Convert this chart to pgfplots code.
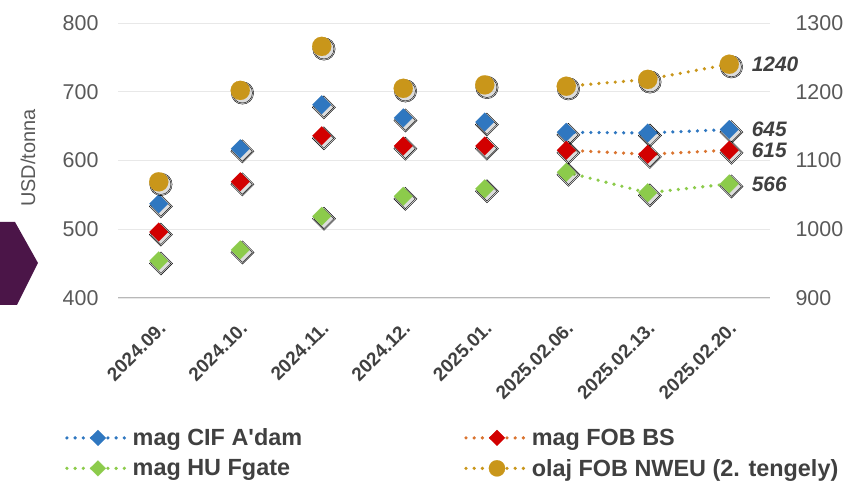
\documentclass[border=0pt]{standalone}
\usepackage{pgfplots}
\usepackage{pgfplotstable}
\pgfplotsset{compat=1.18}
\usepackage{fontspec}
\setmainfont{Liberation Sans}
\definecolor{cifblue}{HTML}{2F77C0}
\definecolor{fobred}{HTML}{D20000}
\definecolor{fobline}{HTML}{DA7430}
\definecolor{hugreen}{HTML}{8CCB4B}
\definecolor{olajgold}{HTML}{C9961A}
\definecolor{ticklab}{HTML}{595959}
\definecolor{labdark}{HTML}{404040}
\definecolor{purp}{HTML}{4B1548}

\pgfplotstableread{
x cif fob hu olaj
0 537 496 454 1069
1 617 569 470 1202
2 681 636 519 1266
3 662 621 548 1205
4 656 621 559 1210
}\early
\pgfplotstableread{
x cif fob hu olaj
5 641 615 583 1208
6 640 609 553 1218
7 645 615 566 1240
}\late

\pgfplotsset{
  dia/.style={mark=square*, mark size=6.6bp, mark options={rotate=45, solid, draw=#1, line width=0.1bp, fill=#1}},
  circ/.style={mark=*, mark size=9.6bp, mark options={solid, draw=#1, line width=0.1bp, fill=#1}},
  dots/.style={line width=3.6bp, line cap=round, dash pattern=on 0pt off 8.2bp, color=#1},
  shdia/.style={only marks, forget plot, xshift=2.2bp, yshift=-2.6bp, mark=square*, mark size=#1, mark options={rotate=45, solid, draw=none, fill=black, fill opacity=0.07}},
  shcirc/.style={only marks, forget plot, xshift=2.2bp, yshift=-2.6bp, mark=*, mark size=#1, mark options={solid, draw=none, fill=black, fill opacity=0.07}},
  base/.style={
    scale only axis, width=652bp, height=275bp,
    at={(118bp,185bp)}, anchor=south west,
    xmin=-0.5, xmax=7.5,
    axis line style={draw=none},
    major tick style={draw=none},
    minor tick style={draw=none},
    clip=false,
    /pgf/number format/assume math mode=true,
    /pgf/number format/1000 sep={},
    yticklabel style={font=\fontsize{21.5}{25}\selectfont, color=ticklab},
  },
}

\begin{document}
\begin{tikzpicture}[x=1bp,y=1bp]
\useasboundingbox (0,0) rectangle (845,483);
\fill[purp] (0,261) -- (15,261) -- (38,220) -- (17,178) -- (0,178) -- cycle;
\node[rotate=90, font=\fontsize{20}{24}\selectfont, color=ticklab] at (28,325) {USD/tonna};

\begin{axis}[base,
  ymin=400, ymax=800, ytick={400,500,...,800},
  ymajorgrids, grid style={color=black!9, line width=0.8bp},
  xtick={0,...,7},
  xticklabels={2024.09.,2024.10.,2024.11.,2024.12.,2025.01.,2025.02.06.,2025.02.13.,2025.02.20.},
  xticklabel style={xshift=6bp, yshift=-25bp, rotate=45, anchor=east, font=\bfseries\fontsize{19}{22}\selectfont, color=labdark},
  yticklabel style={xshift=-16bp},
]
\draw[black!28, line width=1bp] (rel axis cs:0,0) -- (rel axis cs:1,0);
% shadows
\addplot[shdia=8.2bp] table[x=x,y=cif]{\early};
\addplot[shdia=8.2bp] table[x=x,y=cif]{\late};
\addplot[shdia=8.2bp] table[x=x,y=fob]{\early};
\addplot[shdia=8.2bp] table[x=x,y=fob]{\late};
\addplot[shdia=8.2bp] table[x=x,y=hu]{\early};
\addplot[shdia=8.2bp] table[x=x,y=hu]{\late};
\addplot[shdia=7.0bp] table[x=x,y=cif]{\early};
\addplot[shdia=7.0bp] table[x=x,y=cif]{\late};
\addplot[shdia=7.0bp] table[x=x,y=fob]{\early};
\addplot[shdia=7.0bp] table[x=x,y=fob]{\late};
\addplot[shdia=7.0bp] table[x=x,y=hu]{\early};
\addplot[shdia=7.0bp] table[x=x,y=hu]{\late};
% series
\addplot[only marks, dia=cifblue, forget plot] table[x=x,y=cif]{\early};
\addplot[dots=cifblue, dia=cifblue, forget plot] table[x=x,y=cif]{\late};
\addplot[only marks, dia=fobred, forget plot] table[x=x,y=fob]{\early};
\addplot[dots=fobline, dia=fobred, forget plot] table[x=x,y=fob]{\late};
\addplot[only marks, dia=hugreen, forget plot] table[x=x,y=hu]{\early};
\addplot[dots=hugreen, dia=hugreen, forget plot] table[x=x,y=hu]{\late};
\node[anchor=west, xshift=19bp, font=\bfseries\itshape\fontsize{21}{25}\selectfont, color=labdark] at (axis cs:7,645) {645};
\node[anchor=west, xshift=19bp, font=\bfseries\itshape\fontsize{21}{25}\selectfont, color=labdark] at (axis cs:7,615) {615};
\node[anchor=west, xshift=19bp, font=\bfseries\itshape\fontsize{21}{25}\selectfont, color=labdark] at (axis cs:7,566) {566};
\end{axis}

\begin{axis}[base,
  ymin=900, ymax=1300, ytick={900,1000,...,1300},
  axis y line*=right, hide x axis,
  yticklabel style={xshift=22bp},
  legend style={at={(-0.086,-0.46)}, anchor=north west, draw=none, fill=none,
    font=\bfseries\fontsize{23.5}{27}\selectfont, text=labdark,
    /tikz/column 2/.style={column sep=160bp}, row sep=8bp},
  legend columns=2, legend cell align=left,
  legend image code/.code={\draw[mark repeat=2, mark phase=2, #1, every mark/.append style={scale=0.85}] plot coordinates {(0bp,0bp) (31bp,0bp) (62bp,0bp)};},
]
\addlegendimage{dots=cifblue, dia=cifblue}
\addlegendentry{mag CIF A\textquotesingle dam}
\addlegendimage{dots=fobline, dia=fobred}
\addlegendentry{mag FOB BS}
\addlegendimage{dots=hugreen, dia=hugreen}
\addlegendentry{mag HU Fgate}
\addplot[shcirc=11.2bp] table[x=x,y=olaj]{\early};
\addplot[shcirc=11.2bp] table[x=x,y=olaj]{\late};
\addplot[shcirc=10bp] table[x=x,y=olaj]{\early};
\addplot[shcirc=10bp] table[x=x,y=olaj]{\late};
\addplot[only marks, circ=olajgold, forget plot] table[x=x,y=olaj]{\early};
\addplot[dots=olajgold, circ=olajgold] table[x=x,y=olaj]{\late};
\addlegendentry{olaj FOB NWEU (2. tengely)}
\node[anchor=west, xshift=19bp, font=\bfseries\itshape\fontsize{21}{25}\selectfont, color=labdark] at (axis cs:7,1240) {1240};
\end{axis}
\end{tikzpicture}
\end{document}
